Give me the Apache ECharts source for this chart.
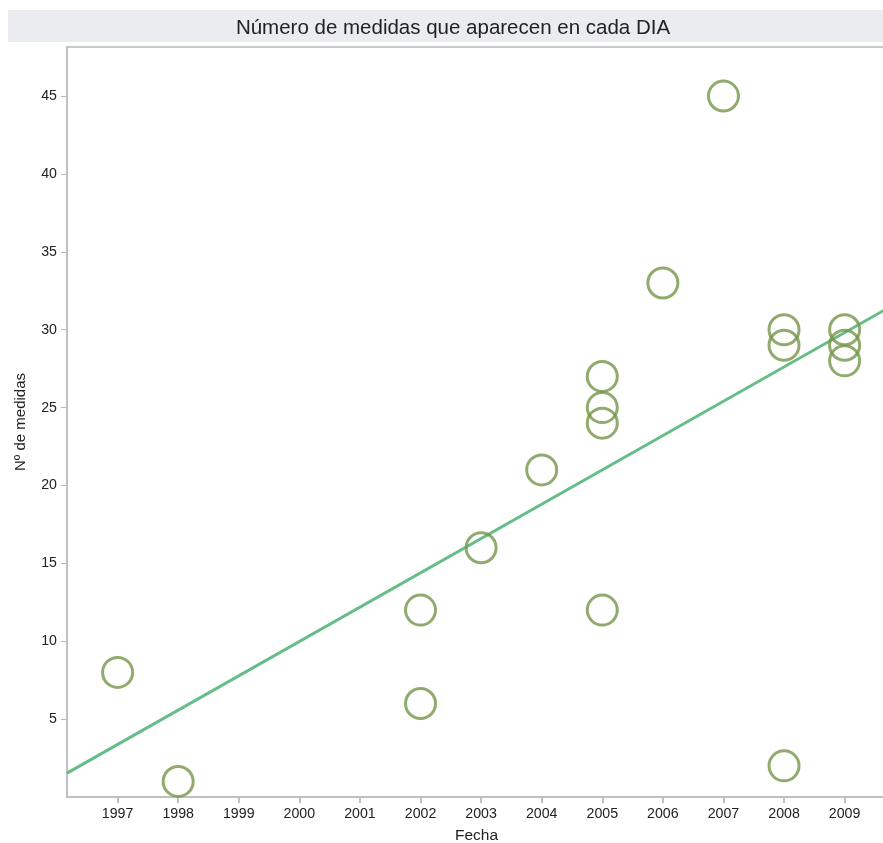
<!DOCTYPE html>
<html>
<head>
<meta charset="utf-8">
<script src="https://cdn.jsdelivr.net/npm/echarts@6/dist/echarts.min.js"></script>
<style>html,body{margin:0;padding:0;background:#fff}#c{width:883px;height:843px}</style>
</head>
<body>
<div id="c"></div>
<script>
const years = [1997, 1998, 2002, 2002, 2003, 2004, 2005, 2005, 2005, 2005, 2006, 2007, 2008, 2008, 2008, 2009, 2009, 2009];
const medidas = [8, 1, 12, 6, 16, 21, 27, 25, 24, 12, 33, 45, 30, 29, 2, 30, 29, 28];
const xTicks = [1997, 1998, 1999, 2000, 2001, 2002, 2003, 2004, 2005, 2006, 2007, 2008, 2009];
const yTicks = [5, 10, 15, 20, 25, 30, 35, 40, 45];
const xMin = 1996.165, xMax = 2009.683;

// least-squares trend line derived from the data
const n = years.length;
const mx = years.reduce((a, b) => a + b, 0) / n;
const my = medidas.reduce((a, b) => a + b, 0) / n;
let sxy = 0, sxx = 0;
for (let i = 0; i < n; i++) { sxy += (years[i] - mx) * (medidas[i] - my); sxx += (years[i] - mx) ** 2; }
const slope = sxy / sxx;
const trend = [xMin, xMax].map(x => [x, my + slope * (x - mx)]);

const chart = echarts.init(document.getElementById('c'));
const font = 'Liberation Sans, Arial, sans-serif';
chart.setOption({
  animation: false,
  graphic: [{ type: 'rect', shape: { x: 8, y: 10, width: 875, height: 32 }, style: { fill: '#ebecef' }, z: -1 }],
  title: { text: 'Número de medidas que aparecen en cada DIA', left: 448, top: 23, textAlign: 'center', textVerticalAlign: 'middle',
    textStyle: { fontFamily: font, fontSize: 20.5, fontWeight: 'normal', color: '#222' } },
  grid: { left: 67, right: -3, top: 47, bottom: 46, show: true, borderColor: '#c8c8c8', borderWidth: 2, containLabel: false, outerBoundsMode: 'none' },
  xAxis: { type: 'value', min: xMin, max: xMax, name: 'Fecha', nameLocation: 'middle', nameGap: 31,
    nameTextStyle: { fontFamily: font, fontSize: 15.5, color: '#222' },
    axisLine: { show: true, lineStyle: { color: '#c0c0c0', width: 2 } },
    axisTick: { show: true, customValues: xTicks, length: 6, lineStyle: { color: '#c0c0c0', width: 2 } },
    axisLabel: { customValues: xTicks, formatter: v => String(v), fontFamily: font, fontSize: 14.2, color: '#222', margin: 10 },
    splitLine: { show: false } },
  yAxis: { type: 'value', min: 0, max: 48.15, name: 'Nº de medidas', nameLocation: 'middle', nameGap: 39,
    nameTextStyle: { fontFamily: font, fontSize: 15, color: '#222' },
    axisLine: { show: true, lineStyle: { color: '#c0c0c0', width: 2 } },
    axisTick: { show: true, customValues: yTicks, length: 6, lineStyle: { color: '#b8b8b8', width: 1 } },
    axisLabel: { customValues: yTicks, fontFamily: font, fontSize: 14.2, color: '#222', margin: 10 },
    splitLine: { show: false } },
  series: [
    { type: 'line', data: trend, symbol: 'none', lineStyle: { color: '#66bd88', width: 3 }, z: 2 },
    { type: 'scatter', data: years.map((y, i) => [y, medidas[i]]), symbol: 'circle', symbolSize: 30,
      itemStyle: { color: 'rgba(0,0,0,0)', borderColor: '#76964a', borderWidth: 3 }, z: 3 }
  ]
});
</script>
</body>
</html>
